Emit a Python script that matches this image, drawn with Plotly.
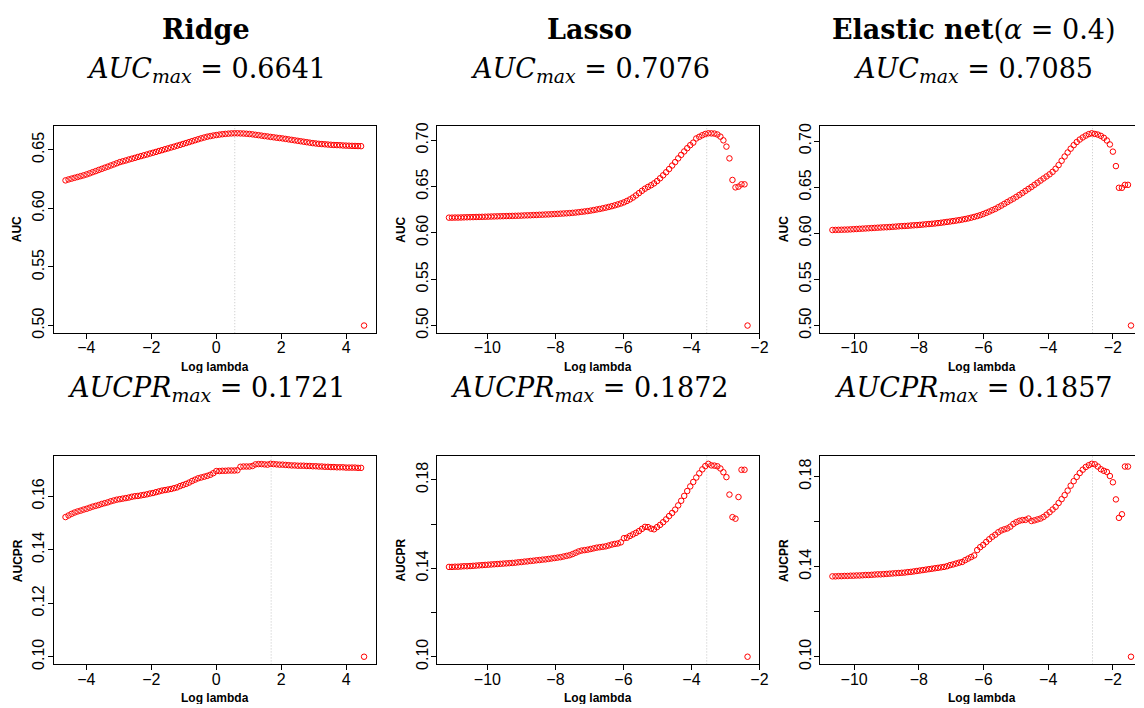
import numpy as np
import plotly.graph_objects as go

W, H = 1144, 708

# ---------------- data ----------------
n_lambda = 100
ridge_loglam_first, ridge_loglam_last = -4.64, 4.55
lasso_loglam_first, lasso_loglam_last = -11.13, -2.35
enet_loglam_first, enet_loglam_last = -10.67, -1.44

ridge_auc = [
    0.6239, 0.6247, 0.6254, 0.6261, 0.6268, 0.6275, 0.6282, 0.6290,
    0.6299, 0.6309, 0.6318, 0.6328, 0.6337, 0.6347, 0.6356, 0.6366, 0.6375, 0.6385, 0.6395,
    0.6402, 0.6409, 0.6417, 0.6424, 0.6431, 0.6439, 0.6446, 0.6453, 0.6460, 0.6468, 0.6475,
    0.6482, 0.6490, 0.6497, 0.6505, 0.6512, 0.6520, 0.6527, 0.6535, 0.6542, 0.6550,
    0.6558, 0.6566, 0.6574, 0.6582, 0.6590, 0.6598, 0.6605, 0.6612, 0.6617, 0.6622, 0.6626,
    0.6630, 0.6633, 0.6636, 0.6638, 0.6640, 0.6641,
    0.6641, 0.6640, 0.6639, 0.6637, 0.6635,
    0.6632, 0.6628, 0.6625, 0.6621, 0.6617, 0.6614, 0.6610, 0.6607, 0.6603, 0.6600, 0.6597,
    0.6593, 0.6589, 0.6585, 0.6581, 0.6577, 0.6573, 0.6569, 0.6565, 0.6561, 0.6557,
    0.6554, 0.6551, 0.6549, 0.6547, 0.6545, 0.6543, 0.6541, 0.6540, 0.6539, 0.6537, 0.6536,
    0.6535, 0.6534, 0.6533, 0.6532, 0.6531,
    0.5000,
]

ridge_aucpr = [
    0.1522, 0.1528, 0.1534, 0.1539, 0.1543, 0.1546, 0.1550, 0.1553, 0.1557, 0.1561,
    0.1564, 0.1567, 0.1571, 0.1574, 0.1577, 0.1581, 0.1584, 0.1587, 0.1589, 0.1591,
    0.1593, 0.1595, 0.1598, 0.1600, 0.1601, 0.1603, 0.1605, 0.1607, 0.1610, 0.1612,
    0.1615, 0.1618, 0.1621, 0.1623, 0.1625, 0.1627, 0.1630, 0.1633, 0.1638, 0.1642,
    0.1646, 0.1651, 0.1657, 0.1662, 0.1667, 0.1670, 0.1673, 0.1676, 0.1680, 0.1686,
    0.1694, 0.1694, 0.1695, 0.1695, 0.1696, 0.1696, 0.1696, 0.1697, 0.1710, 0.1711,
    0.1711, 0.1711, 0.1713, 0.1719, 0.1720, 0.1720, 0.1719, 0.1718, 0.1721, 0.1720,
    0.1719, 0.1718, 0.1718, 0.1717, 0.1716, 0.1715, 0.1715, 0.1714, 0.1714, 0.1714,
    0.1713, 0.1713, 0.1712, 0.1712, 0.1711, 0.1711, 0.1710, 0.1710, 0.1709, 0.1709,
    0.1708, 0.1708, 0.1708, 0.1707, 0.1707, 0.1707, 0.1707, 0.1706, 0.1706, 0.1000,
]

lasso_auc = [
    0.6165, 0.6165, 0.6166, 0.6166, 0.6167, 0.6168, 0.6169, 0.6170, 0.6171, 0.6172,
    0.6173, 0.6174, 0.6175, 0.6176, 0.6177, 0.6178, 0.6179, 0.6180, 0.6181, 0.6182,
    0.6183, 0.6184, 0.6185, 0.6186, 0.6187, 0.6189, 0.6190, 0.6191, 0.6193, 0.6194,
    0.6196, 0.6197, 0.6199, 0.6200, 0.6202, 0.6204, 0.6206, 0.6208, 0.6210, 0.6212,
    0.6214, 0.6217, 0.6220, 0.6224, 0.6228, 0.6232, 0.6236, 0.6241, 0.6247, 0.6253,
    0.6259, 0.6266, 0.6273, 0.6281, 0.6289, 0.6298, 0.6308, 0.6318, 0.6330, 0.6345,
    0.6362, 0.6382, 0.6405, 0.6430, 0.6455, 0.6478, 0.6497, 0.6515, 0.6535, 0.6560,
    0.6590, 0.6622, 0.6655, 0.6690, 0.6728, 0.6765, 0.6805, 0.6843, 0.6880, 0.6915,
    0.6948, 0.6975, 0.7020, 0.7038, 0.7055, 0.7069, 0.7076, 0.7075, 0.7073, 0.7063,
    0.7040, 0.7000, 0.6932, 0.6805, 0.6572, 0.6492, 0.6500, 0.6525, 0.6525, 0.5000,
]

lasso_aucpr = [
    0.1406, 0.1406, 0.1407, 0.1407, 0.1408, 0.1409, 0.1409, 0.1410, 0.1411, 0.1412,
    0.1413, 0.1414, 0.1415, 0.1416, 0.1417, 0.1418, 0.1419, 0.1420, 0.1421, 0.1422,
    0.1423, 0.1424, 0.1425, 0.1427, 0.1428, 0.1430, 0.1431, 0.1433, 0.1434, 0.1436,
    0.1437, 0.1439, 0.1440, 0.1442, 0.1444, 0.1446, 0.1448, 0.1450, 0.1453, 0.1456,
    0.1459, 0.1464, 0.1470, 0.1476, 0.1480, 0.1482, 0.1484, 0.1487, 0.1490, 0.1493,
    0.1495, 0.1497, 0.1499, 0.1503, 0.1507, 0.1510, 0.1512, 0.1517, 0.1536, 0.1538,
    0.1546, 0.1553, 0.1560, 0.1568, 0.1578, 0.1587, 0.1586, 0.1579, 0.1576, 0.1586,
    0.1596, 0.1608, 0.1621, 0.1636, 0.1650, 0.1665, 0.1684, 0.1705, 0.1727, 0.1749,
    0.1770, 0.1790, 0.1810, 0.1829, 0.1847, 0.1862, 0.1872, 0.1865, 0.1864, 0.1861,
    0.1851, 0.1834, 0.1812, 0.1733, 0.1631, 0.1624, 0.1722, 0.1845, 0.1845, 0.1000,
]

enet_auc = [
    0.6036, 0.6037, 0.6038, 0.6039, 0.6040, 0.6041, 0.6043, 0.6045, 0.6047, 0.6049,
    0.6051, 0.6053, 0.6055, 0.6057, 0.6059, 0.6061, 0.6063, 0.6065, 0.6066, 0.6068,
    0.6071, 0.6073, 0.6076, 0.6078, 0.6080, 0.6082, 0.6085, 0.6087, 0.6089, 0.6092,
    0.6095, 0.6098, 0.6101, 0.6104, 0.6107, 0.6111, 0.6115, 0.6119, 0.6124, 0.6128,
    0.6133, 0.6138, 0.6143, 0.6149, 0.6155, 0.6162, 0.6170, 0.6178, 0.6187, 0.6197,
    0.6209, 0.6222, 0.6236, 0.6251, 0.6265, 0.6283, 0.6301, 0.6320, 0.6339, 0.6358,
    0.6376, 0.6396, 0.6417, 0.6438, 0.6460, 0.6482, 0.6503, 0.6526, 0.6549, 0.6572,
    0.6595, 0.6617, 0.6640, 0.6667, 0.6700, 0.6740, 0.6787, 0.6833, 0.6877, 0.6918,
    0.6956, 0.6990, 0.7017, 0.7040, 0.7060, 0.7076, 0.7085, 0.7078, 0.7071, 0.7057,
    0.7036, 0.7007, 0.6964, 0.6886, 0.6729, 0.6494, 0.6494, 0.6526, 0.6526, 0.5000,
]

enet_aucpr = [
    0.1357, 0.1357, 0.1358, 0.1358, 0.1359, 0.1359, 0.1360, 0.1360, 0.1361, 0.1361,
    0.1362, 0.1363, 0.1363, 0.1364, 0.1365, 0.1366, 0.1366, 0.1367, 0.1368, 0.1369,
    0.1370, 0.1371, 0.1372, 0.1373, 0.1374, 0.1376, 0.1377, 0.1379, 0.1381, 0.1383,
    0.1385, 0.1387, 0.1389, 0.1391, 0.1393, 0.1395, 0.1397, 0.1399, 0.1402, 0.1407,
    0.1410, 0.1414, 0.1418, 0.1421, 0.1429, 0.1436, 0.1443, 0.1450, 0.1474, 0.1487,
    0.1497, 0.1510, 0.1522, 0.1533, 0.1542, 0.1553, 0.1561, 0.1566, 0.1570, 0.1578,
    0.1590, 0.1598, 0.1604, 0.1607, 0.1608, 0.1614, 0.1603, 0.1606, 0.1610, 0.1614,
    0.1621, 0.1631, 0.1642, 0.1654, 0.1666, 0.1683, 0.1700, 0.1718, 0.1738, 0.1760,
    0.1780, 0.1799, 0.1816, 0.1831, 0.1843, 0.1851, 0.1857, 0.1855, 0.1845, 0.1833,
    0.1826, 0.1821, 0.1803, 0.1775, 0.1699, 0.1617, 0.1633, 0.1845, 0.1845, 0.1000,
]

# log(lambda) of the best model (dotted reference lines)
ridge_best_auc, ridge_best_aucpr = 0.57, 1.69
lasso_best_auc, lasso_best_aucpr = -3.55, -3.55
enet_best_auc, enet_best_aucpr = -2.63, -2.63

titles_top = ["<b>Ridge</b>", "<b>Lasso</b>", "<b>Elastic net</b>(<i>α</i> = 0.4)"]
auc_max_text = ["0.6641", "0.7076", "0.7085"]
aucpr_max_text = ["0.1721", "0.1872", "0.1857"]

# ---------------- layout geometry (pixels) ----------------
box_left = [54, 440.5, 827]
box_w = 325
row_top = [124, 458.3]
row_bot = [334, 669]
title_cx = [208, 594.5, 981]

ridge_x = np.linspace(ridge_loglam_first, ridge_loglam_last, n_lambda)
lasso_x = np.linspace(lasso_loglam_first, lasso_loglam_last, n_lambda)
enet_x = np.linspace(enet_loglam_first, enet_loglam_last, n_lambda)

panels = [
    (0, 0, ridge_x, ridge_auc, ridge_best_auc, "AUC"),
    (0, 1, lasso_x, lasso_auc, lasso_best_auc, "AUC"),
    (0, 2, enet_x, enet_auc, enet_best_auc, "AUC"),
    (1, 0, ridge_x, ridge_aucpr, ridge_best_aucpr, "AUCPR"),
    (1, 1, lasso_x, lasso_aucpr, lasso_best_aucpr, "AUCPR"),
    (1, 2, enet_x, enet_aucpr, enet_best_aucpr, "AUCPR"),
]

fig = go.Figure()
layout = dict(
    width=W, height=H, margin=dict(l=0, r=0, t=0, b=0),
    paper_bgcolor="white", plot_bgcolor="white", showlegend=False,
    font=dict(family="Liberation Sans, Arial, sans-serif", color="black"),
)
shapes = []
annotations = []

tick_font = dict(family="Liberation Sans, Arial, sans-serif", size=16, color="black")
small_bold = dict(size=12, color="black", family="Liberation Sans, Arial, sans-serif")

for k, (r, c, xs, ys, best, ylab) in enumerate(panels):
    idx = "" if k == 0 else str(k + 1)
    xa, ya = "x" + idx, "y" + idx
    fig.add_trace(go.Scatter(
        x=xs, y=ys, mode="markers", xaxis=xa, yaxis=ya,
        marker=dict(symbol="circle-open", size=5.5, color="#ff0000",
                    line=dict(width=1, color="#ff0000")),
        hoverinfo="skip",
    ))
    # R-style 4% axis extension
    xmin, xmax = float(np.min(xs)), float(np.max(xs))
    ex = 0.04 * (xmax - xmin)
    x0, x1 = xmin - ex, xmax + ex
    left_px = box_left[c]
    right_px = min(left_px + box_w, W)
    frac = (right_px - left_px) / box_w
    x1_vis = x0 + (x1 - x0) * frac
    ymin, ymax = min(ys), max(ys)
    ey = 0.04 * (ymax - ymin)

    if ylab == "AUC":
        yvals = [0.50, 0.55, 0.60, 0.65, 0.70]
        ytext = ["0.50", "0.55", "0.60", "0.65", "0.70"]
    else:
        yvals = [0.10, 0.12, 0.14, 0.16, 0.18]
        if c == 0:
            ytext = ["0.10", "0.12", "0.14", "0.16", "0.18"]
        else:
            ytext = ["0.10", "", "0.14", "", "0.18"]

    full_box = (left_px + box_w) <= W
    layout["xaxis" + idx] = dict(
        domain=[left_px / W, right_px / W], anchor=ya,
        range=[x0, x1_vis], tickmode="linear", tick0=0, dtick=2,
        ticks="outside", ticklen=5, tickwidth=1, tickcolor="black",
        ticklabelstandoff=-5,
        showline=True, linecolor="black", linewidth=1, mirror=True,
        showgrid=False, zeroline=False, tickfont=tick_font,
    )
    layout["yaxis" + idx] = dict(
        domain=[1 - row_bot[r] / H, 1 - row_top[r] / H], anchor=xa,
        range=[ymin - ey, ymax + ey], tickmode="array",
        tickvals=yvals, ticktext=ytext, tickangle=-90,
        ticks="outside", ticklen=5, tickwidth=1, tickcolor="black",
        ticklabelstandoff=-3,
        showline=True, linecolor="black", linewidth=1,
        mirror=True if full_box else False,
        showgrid=False, zeroline=False, tickfont=tick_font,
    )
    shapes.append(dict(
        type="line", xref=xa, yref=ya + " domain", x0=best, x1=best, y0=0, y1=1,
        line=dict(color="#c4c4c4", width=1, dash="1px,2px"), layer="below",
    ))
    # axis titles
    cx = (left_px + box_w / 2) / W
    annotations.append(dict(
        text="<b>Log lambda</b>", xref="paper", yref="paper",
        x=cx, y=1 - (row_bot[r] + 33.5) / H, xanchor="center", yanchor="middle",
        height=13, valign="middle",
        showarrow=False, font=small_bold,
    ))
    annotations.append(dict(
        text="<b>%s</b>" % ylab, xref="paper", yref="paper",
        x=(left_px - 36) / W, y=1 - (row_top[r] + row_bot[r]) / 2 / H,
        xanchor="center", yanchor="middle", textangle=-90,
        showarrow=False, font=small_bold,
    ))

title_font = dict(family="DejaVu Serif, serif", size=27, color="black")
for c in range(3):
    annotations.append(dict(
        text=titles_top[c], xref="paper", yref="paper",
        x=title_cx[c] / W, y=1 - 27 / H, xanchor="center", yanchor="middle",
        showarrow=False, font=title_font,
    ))
    annotations.append(dict(
        text="<i>AUC</i><sub><i>max</i></sub> = " + auc_max_text[c],
        xref="paper", yref="paper",
        x=title_cx[c] / W, y=1 - 68 / H, xanchor="center", yanchor="middle",
        height=30, valign="middle",
        showarrow=False, font=title_font,
    ))
    annotations.append(dict(
        text="<i>AUCPR</i><sub><i>max</i></sub> = " + aucpr_max_text[c],
        xref="paper", yref="paper",
        x=title_cx[c] / W, y=1 - 390 / H, xanchor="center", yanchor="middle",
        height=30, valign="middle",
        showarrow=False, font=title_font,
    ))

layout["shapes"] = shapes
layout["annotations"] = annotations
fig.update_layout(**layout)
fig.write_html("out.html")
